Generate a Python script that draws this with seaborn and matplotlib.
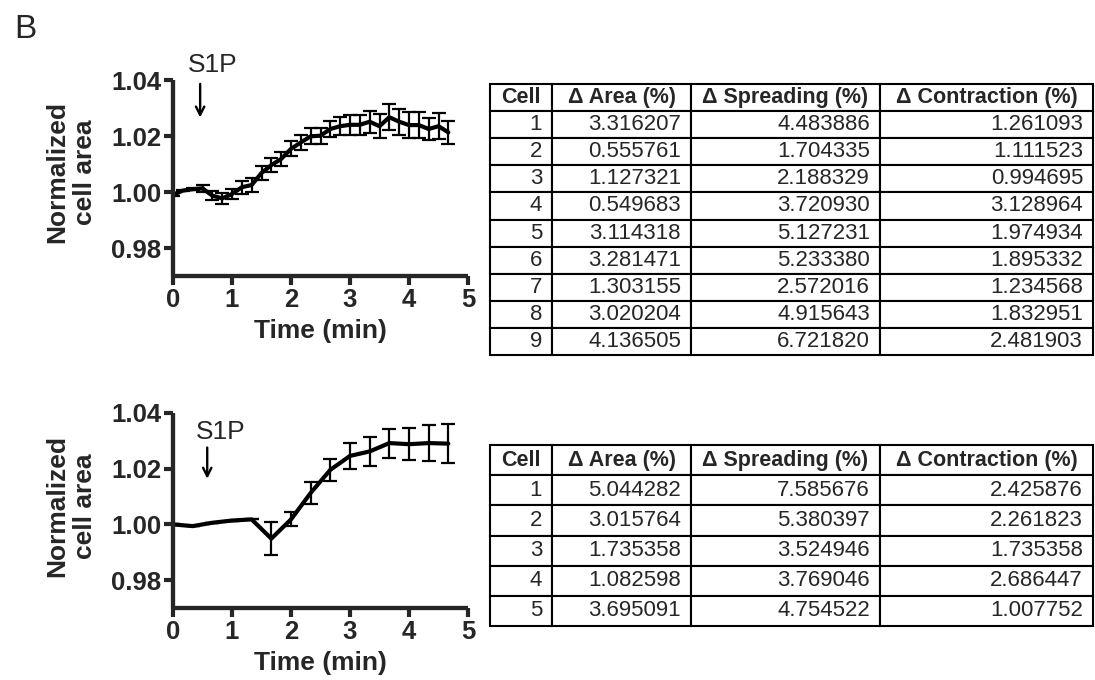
import matplotlib
matplotlib.use("Agg")
import matplotlib.pyplot as plt
import seaborn as sns
import numpy as np
import pandas as pd

# top trace: 10 s sampling
time_top = [0, 1/6, 2/6, 3/6, 4/6, 5/6, 1, 7/6, 8/6, 9/6, 10/6, 11/6, 2, 13/6, 14/6, 15/6,
            16/6, 17/6, 3, 19/6, 20/6, 21/6, 22/6, 23/6, 4, 25/6, 26/6, 27/6, 28/6]
area_top = [0.9990, 1.0005, 1.0010, 1.0013, 0.9987, 0.9977, 0.9993, 1.0017, 1.0025, 1.0068,
            1.0096, 1.0118, 1.0154, 1.0177, 1.0199, 1.0201, 1.0225, 1.0235, 1.0240, 1.0240,
            1.0251, 1.0235, 1.0267, 1.0251, 1.0239, 1.0239, 1.0225, 1.0235, 1.0213]
sem_top = [0.0005, 0.0003, 0.0003, 0.0012, 0.0017, 0.0020, 0.0019, 0.0023, 0.0024, 0.0025,
           0.0025, 0.0026, 0.0027, 0.0027, 0.0028, 0.0028, 0.0030, 0.0033, 0.0036, 0.0036,
           0.0040, 0.0043, 0.0046, 0.0046, 0.0046, 0.0046, 0.0040, 0.0046, 0.0042]

# bottom trace: 20 s sampling
time_bot = [0, 1/3, 2/3, 1, 4/3, 5/3, 2, 7/3, 8/3, 3, 10/3, 11/3, 4, 13/3, 14/3]
area_bot = [1.0000, 0.9994, 1.0006, 1.0014, 1.0018, 0.9949, 1.0018, 1.0113, 1.0196, 1.0246,
            1.0262, 1.0292, 1.0288, 1.0292, 1.0290]
sem_bot = [0.0, 0.0, 0.0, 0.0, 0.0, 0.0060, 0.0025, 0.0040, 0.0040, 0.0046,
           0.0051, 0.0052, 0.0057, 0.0064, 0.0070]

table_cols = ["Cell", "\u0394 Area (%)", "\u0394 Spreading (%)", "\u0394 Contraction (%)"]

cells_top = [1, 2, 3, 4, 5, 6, 7, 8, 9]
area_pct_top = [3.316207, 0.555761, 1.127321, 0.549683, 3.114318, 3.281471, 1.303155, 3.020204, 4.136505]
spread_pct_top = [4.483886, 1.704335, 2.188329, 3.720930, 5.127231, 5.233380, 2.572016, 4.915643, 6.721820]
contr_pct_top = [1.261093, 1.111523, 0.994695, 3.128964, 1.974934, 1.895332, 1.234568, 1.832951, 2.481903]

cells_bot = [1, 2, 3, 4, 5]
area_pct_bot = [5.044282, 3.015764, 1.735358, 1.082598, 3.695091]
spread_pct_bot = [7.585676, 5.380397, 3.524946, 3.769046, 4.754522]
contr_pct_bot = [2.425876, 2.261823, 1.735358, 2.686447, 1.007752]

sns.set_style("ticks")
plt.rcParams['font.family'] = ['Liberation Sans', 'DejaVu Sans']

W, H = 1095, 680
fig = plt.figure(figsize=(W / 100, H / 100), dpi=100)


def px_axes(x0, y0, x1, y1):
	return fig.add_axes([x0 / W, 1 - y1 / H, (x1 - x0) / W, (y1 - y0) / H])


def trace(ax, t, y, err, arrow_x, arrow_y0, arrow_y1, text_xy, ylab_y):
	df = pd.DataFrame({"t": t, "y": y})
	sns.lineplot(data=df, x="t", y="y", ax=ax, color="black", linewidth=3.0)
	ax.errorbar(t, y, yerr=err, fmt="none", ecolor="black", elinewidth=1.6,
				capsize=5, capthick=1.6)
	ax.set_xlim(0, 5)
	ax.set_ylim(0.97, 1.04)
	ax.set_xticks([0, 1, 2, 3, 4, 5])
	ax.set_yticks([0.98, 1.00, 1.02, 1.04])
	ax.set_yticklabels(["0.98", "1.00", "1.02", "1.04"])
	for s in ["top", "right"]:
		ax.spines[s].set_visible(False)
	for s in ["left", "bottom"]:
		ax.spines[s].set_linewidth(3.1)
		ax.spines[s].set_capstyle("butt")
	ax.tick_params(axis="both", width=3.0, length=6.5, labelsize=18.5, pad=2)
	ax.tick_params(axis="y", pad=2)
	for lab in ax.get_xticklabels() + ax.get_yticklabels():
		lab.set_fontweight("bold")
	ax.set_xlabel("Time (min)", fontsize=19, fontweight="bold", va="center")
	ax.xaxis.set_label_coords(0.5, -0.28)
	ax.set_ylabel("Normalized\ncell area", fontsize=19, fontweight="bold",
				  va="center", linespacing=1.2)
	ax.yaxis.set_label_coords(-0.345, ylab_y)
	ax.annotate("", xy=(arrow_x, arrow_y1), xytext=(arrow_x, arrow_y0),
				arrowprops=dict(arrowstyle="->", color="black", lw=1.7,
								mutation_scale=15), annotation_clip=False)
	ax.text(text_xy[0], text_xy[1], "S1P", fontsize=19, ha="center", va="center",
			clip_on=False)


ax1 = px_axes(173, 80, 468, 276)
trace(ax1, time_top, area_top, sem_top, 0.46, 1.0396, 1.0256, (0.68, 1.0454), 0.53)

ax2 = px_axes(173, 413, 468, 608)
trace(ax2, time_bot, area_bot, sem_bot, 0.58, 1.0286, 1.0154, (0.80, 1.0332), 0.523)


def make_table(ax, cells, a, s, c):
	ax.axis("off")
	rows = [[str(n), f"{x:.6f}", f"{y:.6f}", f"{z:.6f}"] for n, x, y, z in zip(cells, a, s, c)]
	widths = [62, 139, 189, 213]
	tot = sum(widths)
	tb = ax.table(cellText=rows, colLabels=table_cols, cellLoc="right", colLoc="center",
				  colWidths=[w / tot for w in widths], bbox=[0, 0, 1, 1])
	tb.auto_set_font_size(False)
	tb.set_fontsize(16)
	for (r, col), cell in tb.get_celld().items():
		cell.set_linewidth(1.5)
		cell.set_edgecolor("black")
		cell.PAD = 10 / widths[col]
		if r == 0:
			cell.get_text().set_fontweight("bold")
			cell.get_text().set_fontsize(15.5)


make_table(px_axes(490, 84, 1093, 355), cells_top, area_pct_top, spread_pct_top, contr_pct_top)
make_table(px_axes(490, 445, 1093, 626), cells_bot, area_pct_bot, spread_pct_bot, contr_pct_bot)

fig.text(25 / W, 1 - 30 / H, "B", fontsize=24, ha="center", va="center")

fig.savefig("out.png", dpi=100)
